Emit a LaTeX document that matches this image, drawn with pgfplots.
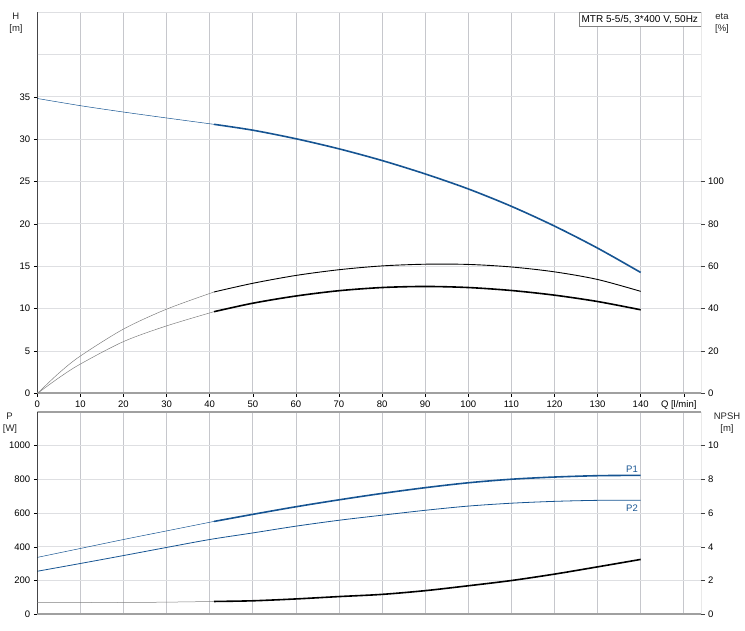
\documentclass[border=0pt]{standalone}
\usepackage{pgfplots}
\pgfplotsset{compat=1.18}
\usepackage{fontspec}
\setmainfont{Liberation Sans}

\definecolor{pblue}{RGB}{22,84,146}
\definecolor{gridv}{RGB}{198,199,204}
\definecolor{gridh}{RGB}{222,223,226}
\definecolor{axgray}{RGB}{160,160,160}

\pgfplotsset{
  base/.style={
    scale only axis, width=663.7pt, xmin=0, xmax=154,
    axis line style={draw=none},
    tick align=outside, major tick length=3.5pt,
    tick style={black, line width=0.5pt},
    every tick label/.append style={font=\fontsize{9.5}{11}\selectfont},
    /pgf/number format/assume math mode=true,
    /pgf/number format/1000 sep={},
  },
  thin/.style={no markers, smooth, line width=0.5pt},
  thick/.style={no markers, smooth, line width=1.6pt},
}

\begin{document}
\begin{tikzpicture}
\useasboundingbox (0,0) rectangle (745pt,630pt);

% ---------- upper chart: H and eta ----------
\begin{axis}[base, at={(37.3pt,236.5pt)}, anchor=south west, height=381.5pt,
  ymin=0, ymax=45,
  xtick={0,10,...,140}, xtick pos=bottom,
  extra x ticks={150}, extra x tick labels={Q [l/min]},
  extra x tick style={xticklabel style={xshift=-5pt}},
  ytick={0,5,...,35}, ytick pos=left,
  extra y ticks={40}, extra y tick labels={},
  extra y tick style={major tick length=0pt},
  grid=major,
  x grid style={gridv, line width=0.6pt},
  y grid style={gridh, line width=1pt}]
% H, thin part
\addplot[thin, pblue] coordinates {
  (0,34.8) (10,33.95) (20,33.2) (30,32.5) (41,31.75)
};
% H, thick part
\addplot[thick, pblue] coordinates {
  (41,31.75) (50,31.06) (60,30.05) (70,28.86) (80,27.48) (90,25.9)
  (100,24.13) (110,22.08) (120,19.75) (130,17.15) (140,14.28)
};
\draw[gridh, line width=1pt] (rel axis cs:0,1) -- (rel axis cs:1,1);
\draw[black, line width=0.6pt] (rel axis cs:0,0) -- (rel axis cs:0,1);
\draw[axgray, line width=2pt] (rel axis cs:0,0) -- (rel axis cs:1,0);
\node[draw=gray, fill=white, anchor=north east, inner sep=2.8pt,
  font=\fontsize{10}{12}\selectfont] at (rel axis cs:1,1) {MTR 5-5/5, 3*400 V, 50Hz};
\end{axis}

\begin{axis}[base, at={(37.3pt,236.5pt)}, anchor=south west, height=381.5pt,
  ymin=0, ymax=180, hide x axis,
  ytick={0,20,...,100}, ytick pos=right,
  tick style={black!75}]
% eta curves
\addplot[thin, gray] coordinates {
  (0,0) (5,9.6) (10,17.7) (20,30.4) (30,39.8) (41,47.9)
};
\addplot[no markers, smooth, black, line width=0.9pt] coordinates {
  (41,47.9) (50,52.0) (60,55.7) (70,58.4) (80,60.2) (90,61.0)
  (100,60.9) (110,59.7) (120,57.4) (130,53.8) (140,48.2)
};
\addplot[thin, gray] coordinates {
  (0,0) (5,7.4) (10,13.9) (20,24.5) (30,31.9) (41,38.6)
};
\addplot[thick, black] coordinates {
  (41,38.6) (50,42.6) (60,46.0) (70,48.5) (80,50.0) (90,50.5)
  (100,50.0) (110,48.6) (120,46.4) (130,43.4) (140,39.5)
};
\draw[black!70, line width=0.8pt] (rel axis cs:1,0) -- (rel axis cs:1,1);
\end{axis}

% ---------- lower chart: P and NPSH ----------
\begin{axis}[base, at={(37.3pt,15.7pt)}, anchor=south west, height=202.6pt,
  ymin=0, ymax=1200,
  xtick={0,10,...,150}, xticklabels={}, xtick pos=bottom,
  xtick style={draw=none},
  ytick={0,200,...,1000}, ytick pos=left,
  grid=major,
  x grid style={gridv, line width=0.6pt},
  y grid style={gridh, line width=1pt}]
% P1
\addplot[thin, pblue] coordinates {
  (0,337) (10,390) (20,443) (30,494) (41,550)
};
\addplot[thick, pblue] coordinates {
  (41,550) (50,592) (60,637) (70,678) (80,716) (90,750)
  (100,779) (110,800) (120,813) (130,821) (140,823)
};
% P2
\addplot[no markers, smooth, pblue, line width=0.8pt] coordinates {
  (0,255) (10,301) (20,348) (30,396) (40,443) (50,482) (60,522)
  (70,557) (80,587) (90,616) (100,641) (110,658) (120,669) (130,675) (140,676)
};
\node[text=pblue, font=\fontsize{9.5}{11}\selectfont] at (axis cs:138,862) {P1};
\node[text=pblue, font=\fontsize{9.5}{11}\selectfont] at (axis cs:138,630) {P2};
\draw[axgray, line width=2pt] (rel axis cs:0,1) -- (rel axis cs:1,1);
\draw[black, line width=0.6pt] (rel axis cs:0,0) -- (rel axis cs:0,1);
\draw[axgray, line width=2pt] (rel axis cs:0,0) -- (rel axis cs:1,0);
\end{axis}

\begin{axis}[base, at={(37.3pt,15.7pt)}, anchor=south west, height=202.6pt,
  ymin=0, ymax=12, hide x axis,
  ytick={0,2,...,10}, ytick pos=right,
  tick style={black!75}]
% NPSH
\addplot[thin, gray] coordinates {
  (0,0.71) (10,0.70) (20,0.70) (30,0.72) (41,0.76)
};
\addplot[thick, black] coordinates {
  (41,0.76) (50,0.80) (60,0.91) (70,1.05) (80,1.18) (90,1.40)
  (100,1.69) (110,2.0) (120,2.38) (130,2.81) (140,3.25)
};
\draw[black!70, line width=0.8pt] (rel axis cs:1,0) -- (rel axis cs:1,1);
\end{axis}

% axis titles
\begin{scope}[font=\fontsize{9.5}{11}\selectfont, text=black!85]
\node at (15.7pt,613.3pt) {H};
\node at (16pt,600.7pt) {[m]};
\node at (722pt,613.3pt) {eta};
\node at (722pt,600.7pt) {[\%]};
\node at (9.5pt,213.3pt) {P};
\node at (10pt,200.5pt) {[W]};
\node at (727pt,213.3pt) {NPSH};
\node at (727pt,200.5pt) {[m]};
\end{scope}
\end{tikzpicture}
\end{document}
